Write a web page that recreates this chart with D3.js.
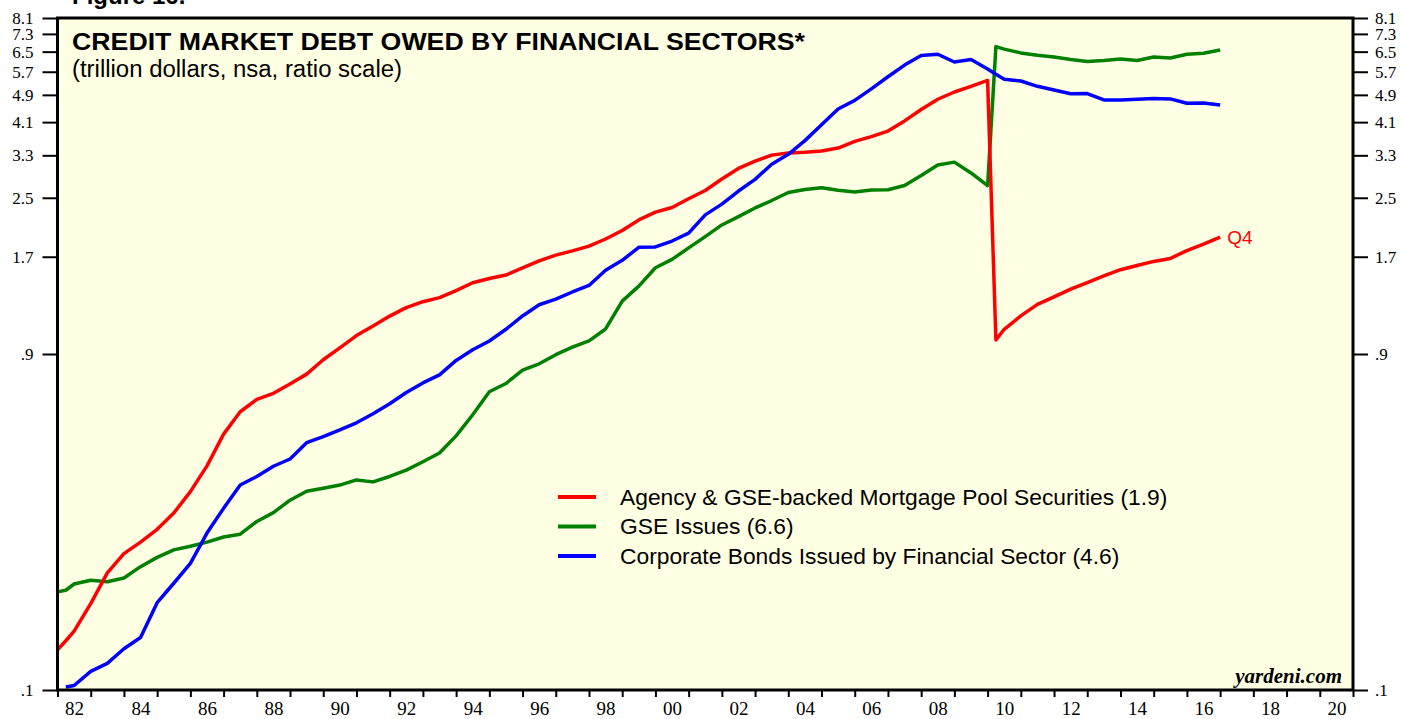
<!DOCTYPE html>
<html>
<head>
<meta charset="utf-8">
<script src="https://cdn.jsdelivr.net/npm/d3@7"></script>
<style>
  body { margin: 0; background: #fff; }
  svg { display: block; }
  .axis text { font-family: "Liberation Serif", "Times New Roman", serif; fill: #000; }
  .axis line { stroke: #000; stroke-width: 2; }
  .title { font-family: "Liberation Sans", Arial, sans-serif; font-weight: bold; font-size: 24px; }
  .subtitle { font-family: "Liberation Sans", Arial, sans-serif; font-size: 23px; }
  .legend-label { font-family: "Liberation Sans", Arial, sans-serif; font-size: 22.8px; }
  .credit { font-family: "Liberation Serif", "Times New Roman", serif; font-weight: bold; font-style: italic; font-size: 21px; }
</style>
</head>
<body>
<svg id="chart"></svg>
<script>
// Half-year grid (plus one extra point at the 2010 break), in years
const years = [
  1982, 1982.25, 1982.5, 1983, 1983.5, 1984, 1984.5, 1985, 1985.5, 1986, 1986.5,
  1987, 1987.5, 1988, 1988.5, 1989, 1989.5, 1990, 1990.5, 1991, 1991.5,
  1992, 1992.5, 1993, 1993.5, 1994, 1994.5, 1995, 1995.5, 1996, 1996.5,
  1997, 1997.5, 1998, 1998.5, 1999, 1999.5, 2000, 2000.5, 2001, 2001.5,
  2002, 2002.5, 2003, 2003.5, 2004, 2004.5, 2005, 2005.5, 2006, 2006.5,
  2007, 2007.5, 2008, 2008.5, 2009, 2009.5, 2010, 2010.25, 2010.5,
  2011, 2011.5, 2012, 2012.5, 2013, 2013.5, 2014, 2014.5, 2015, 2015.5,
  2016, 2016.5, 2017
];

// trillion dollars
const agencyPools = [
  0.130, 0.138, 0.147, 0.176, 0.215, 0.244, 0.263, 0.286, 0.318, 0.366, 0.433,
  0.533, 0.617, 0.669, 0.696, 0.740, 0.789, 0.867, 0.937, 1.015, 1.081,
  1.153, 1.219, 1.267, 1.301, 1.362, 1.434, 1.475, 1.508, 1.580, 1.654,
  1.718, 1.767, 1.823, 1.909, 2.019, 2.163, 2.276, 2.346, 2.483, 2.621,
  2.826, 3.029, 3.175, 3.304, 3.352, 3.367, 3.394, 3.461, 3.614, 3.729,
  3.866, 4.132, 4.452, 4.762, 4.992, 5.178, 5.385, 0.987, 1.058,
  1.155, 1.245, 1.308, 1.375, 1.436, 1.500, 1.562, 1.605, 1.649, 1.681,
  1.770, 1.845, 1.934
];

const gseIssues = [
  0.190, 0.192, 0.200, 0.205, 0.203, 0.208, 0.224, 0.238, 0.250, 0.256, 0.263,
  0.272, 0.277, 0.301, 0.319, 0.346, 0.367, 0.374, 0.382, 0.395, 0.390,
  0.404, 0.421, 0.445, 0.471, 0.527, 0.605, 0.703, 0.742, 0.810, 0.844,
  0.896, 0.941, 0.981, 1.060, 1.272, 1.403, 1.582, 1.671, 1.801, 1.939,
  2.093, 2.210, 2.339, 2.455, 2.587, 2.640, 2.668, 2.626, 2.597, 2.631,
  2.635, 2.710, 2.893, 3.099, 3.156, 2.941, 2.708, 6.718, 6.609,
  6.447, 6.346, 6.276, 6.175, 6.098, 6.130, 6.194, 6.134, 6.280, 6.239,
  6.389, 6.435, 6.570
];

const corpBonds = [
  null, 0.102, 0.103, 0.113, 0.119, 0.131, 0.141, 0.177, 0.201, 0.229, 0.279,
  0.328, 0.382, 0.404, 0.432, 0.453, 0.504, 0.524, 0.548, 0.574, 0.609,
  0.650, 0.700, 0.745, 0.785, 0.863, 0.925, 0.980, 1.058, 1.154, 1.242,
  1.288, 1.350, 1.409, 1.557, 1.661, 1.808, 1.813, 1.884, 1.984, 2.235,
  2.398, 2.613, 2.820, 3.113, 3.321, 3.633, 4.031, 4.469, 4.725, 5.097,
  5.517, 5.954, 6.343, 6.392, 6.075, 6.171, 5.806, 5.604, 5.425,
  5.365, 5.182, 5.058, 4.937, 4.943, 4.740, 4.740, 4.765, 4.781, 4.772,
  4.639, 4.648, 4.588
];

const seriesNames = [
  'Agency & GSE-backed Mortgage Pool Securities',
  'GSE Issues',
  'Corporate Bonds Issued by Financial Sector'
];
const seriesColors = ['#ff0000', '#008000', '#0000ff'];

const yTicks = [0.1, 0.9, 1.7, 2.5, 3.3, 4.1, 4.9, 5.7, 6.5, 7.3, 8.1];
const xTickYears = d3.range(1982, 2022);
const xLabelYears = d3.range(1982, 2021, 2);

const margin = {top: 18, right: 48, bottom: 29, left: 57.5};
const width = 1401, height = 719;
const innerW = width - margin.left - margin.right;
const innerH = height - margin.top - margin.bottom;

const svg = d3.select('#chart').attr('width', width).attr('height', height);

const x = d3.scaleLinear().domain([1982, 2021]).range([0, innerW]);
const y = d3.scaleLog().domain([0.1, 8.1]).range([innerH, 0]);

const chart = svg.append('g')
    .attr('transform', `translate(${margin.left},${margin.top})`);

// plot background
chart.append('rect')
    .attr('width', innerW)
    .attr('height', innerH)
    .attr('fill', '#ffffe3');

// Header text (figure caption cut off at the top)
svg.append('text')
    .attr('class', 'title')
    .attr('x', 72).attr('y', 4)
    .text('Figure 16.');

chart.append('text')
    .attr('class', 'title')
    .attr('x', 72 - margin.left).attr('y', 50 - margin.top)
    .attr('textLength', 733)
    .attr('lengthAdjust', 'spacingAndGlyphs')
    .text('CREDIT MARKET DEBT OWED BY FINANCIAL SECTORS*');

chart.append('text')
    .attr('class', 'subtitle')
    .attr('x', 72 - margin.left).attr('y', 77 - margin.top)
    .attr('textLength', 330)
    .attr('lengthAdjust', 'spacingAndGlyphs')
    .text('(trillion dollars, nsa, ratio scale)');

// Lines
const allSeries = [agencyPools, gseIssues, corpBonds];
const line = d3.line()
    .defined(d => d.v != null)
    .x(d => x(d.t))
    .y(d => y(d.v));

const drawOrder = [1, 0, 2];
drawOrder.forEach(i => {
  const pts = years.map((t, j) => ({t: t, v: allSeries[i][j]}));
  chart.append('path')
      .datum(pts)
      .attr('fill', 'none')
      .attr('stroke', seriesColors[i])
      .attr('stroke-width', 3.5)
      .attr('stroke-linejoin', 'round')
      .attr('d', line);
});

// Q4 marker at end of red series
const lastIdx = years.length - 1;
chart.append('text')
    .attr('class', 'legend-label')
    .attr('x', x(years[lastIdx]) + 7)
    .attr('y', y(agencyPools[lastIdx]))
    .attr('dy', '0.35em')
    .attr('fill', '#ff0000')
    .style('font-size', '19px')
    .text('Q4');

// Legend
const fmt1 = d3.format('.1f');
const legend = chart.append('g')
    .attr('transform', `translate(${558 - margin.left},${497 - margin.top})`);
seriesNames.forEach((name, i) => {
  const last = allSeries[i][allSeries[i].length - 1];
  const row = legend.append('g').attr('transform', `translate(0,${i * 29.5})`);
  row.append('line')
      .attr('x1', 0).attr('x2', 38)
      .attr('stroke', seriesColors[i])
      .attr('stroke-width', 4);
  row.append('text')
      .attr('class', 'legend-label')
      .attr('x', 62)
      .attr('dy', '0.35em')
      .text(`${name} (${fmt1(last)})`);
});

chart.append('text')
    .attr('class', 'credit')
    .attr('x', 1342 - margin.left)
    .attr('y', 683 - margin.top)
    .attr('text-anchor', 'end')
    .text('yardeni.com');

// Axes
const yFormat = d => fmt1(d).replace(/^0/, '');

chart.append('g')
    .attr('class', 'axis')
    .call(d3.axisLeft(y).tickValues(yTicks).tickSize(15).tickPadding(9).tickFormat(yFormat))
    .call(g => g.select('.domain').remove())
    .selectAll('text').style('font-size', '17px');

chart.append('g')
    .attr('class', 'axis')
    .attr('transform', `translate(${innerW},0)`)
    .call(d3.axisRight(y).tickValues(yTicks).tickSize(15).tickPadding(7).tickFormat(yFormat))
    .call(g => g.select('.domain').remove())
    .selectAll('text').style('font-size', '17px');

chart.append('g')
    .attr('class', 'axis')
    .attr('transform', `translate(0,${innerH})`)
    .call(d3.axisBottom(x).tickValues(xTickYears).tickSize(7).tickFormat(''))
    .call(g => g.select('.domain').remove());

chart.append('g')
    .attr('class', 'axis')
    .attr('transform', `translate(0,${innerH})`)
    .call(d3.axisBottom(x).tickValues(xLabelYears.map(d => d + 0.5)).tickSize(0).tickPadding(12)
      .tickFormat(d => String(Math.floor(d) % 100).padStart(2, '0')))
    .call(g => g.select('.domain').remove())
    .selectAll('text').style('font-size', '19px');

// frame
chart.append('rect')
    .attr('width', innerW)
    .attr('height', innerH)
    .attr('fill', 'none')
    .attr('stroke', '#000')
    .attr('stroke-width', 3);
</script>
</body>
</html>
